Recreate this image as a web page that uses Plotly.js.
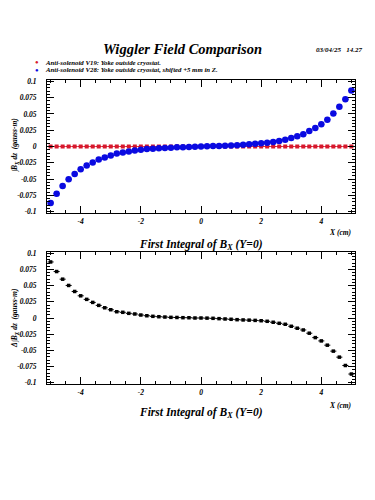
<!DOCTYPE html>
<html>
<head>
<meta charset="utf-8">
<script src="https://cdn.plot.ly/plotly-3.0.1.min.js"></script>
<style>html,body{margin:0;padding:0;background:#fff;}#chart{width:375px;height:500px;}</style>
</head>
<body>
<div id="chart"></div>
<script>
// ---- data ----
const xPos = [-5.0,-4.8,-4.6,-4.4,-4.2,-4.0,-3.8,-3.6,-3.4,-3.2,-3.0,-2.8,-2.6,-2.4,-2.2,-2.0,-1.8,-1.6,-1.4,-1.2,-1.0,-0.8,-0.6,-0.4,-0.2,0.0,0.2,0.4,0.6,0.8,1.0,1.2,1.4,1.6,1.8,2.0,2.2,2.4,2.6,2.8,3.0,3.2,3.4,3.6,3.8,4.0,4.2,4.4,4.6,4.8,5.0];
const v19 = [0,0,0,0,0,0,0,0,0,0,0,0,0,0,0,0,0,0,0,0,0,0,0,0,0,0,0,0,0,0,0,0,0,0,0,0,0,0,0,0,0,0,0,0,0,0,0,0,0,0,0];
const v28 = [-0.0866,-0.0723,-0.0604,-0.0501,-0.0420,-0.0348,-0.0292,-0.0246,-0.0200,-0.0169,-0.0138,-0.0108,-0.0092,-0.0075,-0.0060,-0.0048,-0.0040,-0.0033,-0.0027,-0.0022,-0.0018,-0.0013,-0.0010,-0.0006,-0.0003,0.0000,0.0003,0.0006,0.0009,0.0012,0.0016,0.0021,0.0026,0.0034,0.0043,0.0049,0.0058,0.0069,0.0085,0.0105,0.0131,0.0157,0.0188,0.0238,0.0285,0.0342,0.0412,0.0505,0.0608,0.0726,0.0858];
const diff = [0.0866,0.0718,0.0600,0.0503,0.0410,0.0343,0.0288,0.0241,0.0195,0.0158,0.0128,0.0097,0.0088,0.0072,0.0062,0.0046,0.0035,0.0026,0.0020,0.0015,0.0010,0.0008,0.0005,0.0004,0.0000,0.0000,-0.0002,-0.0005,-0.0010,-0.0015,-0.0020,-0.0026,-0.0030,-0.0033,-0.0037,-0.0042,-0.0051,-0.0066,-0.0082,-0.0097,-0.0128,-0.0158,-0.0185,-0.0235,-0.0303,-0.0354,-0.0420,-0.0512,-0.0605,-0.0734,-0.0866];
const xTickVals = [-4,-2,0,2,4];
const xTickText = ['-4','-2','0','2','4'];
const yTickVals = [-0.1,-0.075,-0.05,-0.025,0,0.025,0.05,0.075,0.1];
const yTickText = ['-0.1','-0.075','-0.05','-0.025','0','0.025','0.05','0.075','0.1'];
const legendNames = ['Anti-solenoid V19: Yoke outside cryostat.','Anti-solenoid V28: Yoke outside cryostat, shifted +5 mm in Z.'];

// ---- layout helpers ----
const L=47, R=20, T=80, B=116, W=375, H=500;
const pw = W-L-R, ph = H-T-B;
const px = p => (p-L)/pw;
const py = p => (H-B-p)/ph;
const SERIF = 'Liberation Serif, Times New Roman, serif';
const fnt = (s,c) => ({family:SERIF, size:s, color:c||'black', style:'italic', weight:'bold'});

const RED='rgb(215,25,45)', BLUE='rgb(10,10,225)';
const ex = c => ({type:'constant', value:0.1, width:0, thickness:1, color:c});

const traces = [
  {x:xPos, y:v19, xaxis:'x', yaxis:'y', mode:'markers', type:'scatter',
   marker:{symbol:'square', size:4, color:RED}, error_x:ex(RED), showlegend:false},
  {x:xPos, y:v28, xaxis:'x', yaxis:'y', mode:'markers', type:'scatter',
   marker:{symbol:'circle', size:6.5, color:BLUE}, error_x:ex(BLUE), showlegend:false},
  {x:xPos, y:diff, xaxis:'x2', yaxis:'y2', mode:'markers', type:'scatter',
   marker:{symbol:'square', size:3.5, color:'black'}, error_x:ex('black'), showlegend:false}
];

const xax = anchor => ({
  anchor:anchor, range:[-5.12,5.12], tickmode:'array', tickvals:xTickVals, ticktext:xTickText,
  ticks:'inside', ticklen:7, tickcolor:'black', tickwidth:1,
  showline:true, linecolor:'black', linewidth:1, mirror:'ticks',
  showgrid:false, zeroline:false, tickfont:fnt(7.5), ticklabelstandoff:1,
  minor:{dtick:0.5, tick0:0, ticks:'inside', ticklen:3, tickcolor:'black', showgrid:false}
});
const yax = (anchor, dom) => ({
  anchor:anchor, domain:dom, range:[-0.102,0.102], tickmode:'array', tickvals:yTickVals, ticktext:yTickText,
  ticks:'inside', ticklen:7, tickcolor:'black', tickwidth:1,
  showline:true, linecolor:'black', linewidth:1, mirror:'ticks',
  showgrid:false, zeroline:false, tickfont:fnt(7.5), ticklabelstandoff:8,
  minor:{dtick:0.005, tick0:0, ticks:'inside', ticklen:3, tickcolor:'black', showgrid:false}
});

const ann = (x,y,text,size,opts) => Object.assign({xref:'paper', yref:'paper', x:px(x), y:py(y), text:text,
  showarrow:false, font:fnt(size), xanchor:'center', yanchor:'middle'}, opts||{});

const layout = {
  width:W, height:H, paper_bgcolor:'white', plot_bgcolor:'white',
  margin:{l:L, r:R, t:T, b:B}, showlegend:false,
  xaxis: xax('y'), yaxis: yax('x', [py(213), 1]),
  xaxis2: xax('y2'), yaxis2: yax('x2', [0, py(252)]),
  annotations: [
    ann(182, 49, 'Wiggler Field Comparison', 14.5),
    ann(364, 50, '03/04/25   14.27', 7, {xanchor:'right'}),
    ann(37, 62, '●', 6, {font:fnt(6, RED)}),
    ann(43, 62, legendNames[0], 6.8, {xanchor:'left'}),
    ann(37, 70, '●', 6, {font:fnt(6, BLUE)}),
    ann(43, 70, legendNames[1], 6.8, {xanchor:'left'}),
    ann(340, 232, 'X (cm)', 7.5),
    ann(201, 245, 'First Integral of B<sub>X</sub> (Y=0)', 11.5),
    ann(15, 146, '∫B<sub>X</sub> dz  (gauss-m)', 7.5, {textangle:-90}),
    ann(340, 405, 'X (cm)', 7.5),
    ann(201, 413, 'First Integral of B<sub>X</sub> (Y=0)', 11.5),
    ann(15, 318, 'Δ∫B<sub>X</sub> dz  (gauss-m)', 7.5, {textangle:-90})
  ]
};

Plotly.newPlot('chart', traces, layout, {displayModeBar:false, staticPlot:true});
</script>
</body>
</html>
